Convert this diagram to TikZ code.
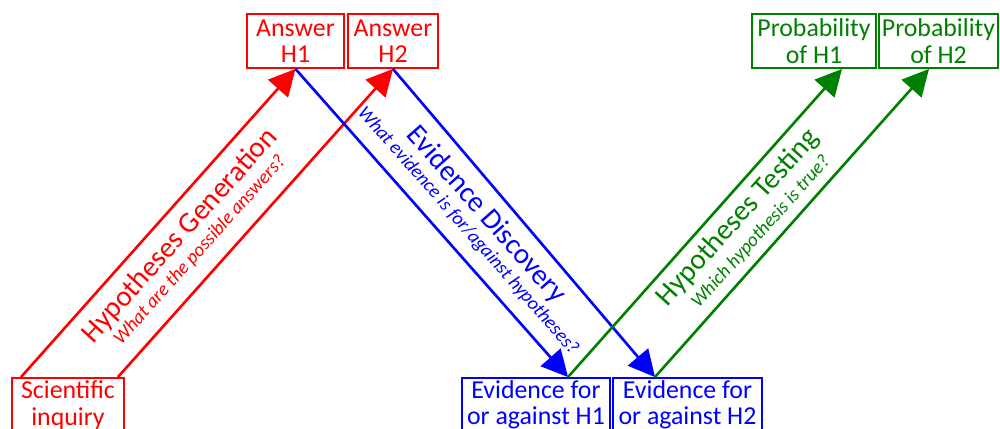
\documentclass[tikz,border=0pt]{standalone}
\usepackage{fontspec}
\setmainfont{Carlito}
\usetikzlibrary{arrows.meta}
\definecolor{hred}{RGB}{255,0,0}
\definecolor{hblue}{RGB}{0,0,255}
\definecolor{hgreen}{RGB}{0,128,0}
\tikzset{>={Triangle[length=15pt,width=15pt]},
box/.style={draw, line width=1.1pt, minimum height=1.08cm, inner sep=0pt, align=center,
    font=\fontsize{14.7}{15}\selectfont},
flow/.style={->, line width=1.5pt},
title/.style={font=\fontsize{16.5}{18}\selectfont, inner sep=0pt},
sub/.style={font=\fontsize{10.9}{12}\selectfont\itshape, inner sep=0pt},
}

\begin{document}
\begin{tikzpicture}[x=0.02cm, y=-0.02cm]
    \useasboundingbox (0,0) rectangle (1000,429);
    % boxes
    \node[box, hred, minimum width=2.24cm] (sci) at (68,405) {Scientific\\inquiry};
    \node[box, hred, minimum width=1.94cm] (a1) at (295.5,41) {Answer\\H1};
    \node[box, hred, minimum width=1.80cm] (a2) at (393,41) {Answer\\H2};
    \node[box, hblue, minimum width=2.96cm] (e1) at (536,405) {Evidence for\\or against H1};
    \node[box, hblue, minimum width=2.98cm] (e2) at (687.5,405) {Evidence for\\or against H2};
    \node[box, hgreen, minimum width=2.48cm] (p1) at (814,41) {Probability\\of H1};
    \node[box, hgreen, minimum width=2.38cm] (p2) at (938.5,41) {Probability\\of H2};
    \coordinate (t1) at ([xshift=0.64cm]e1.north);
    \coordinate (t2) at ([xshift=-0.65cm]e2.north);
    % arrows
    \draw[flow, hred] ([xshift=0.2cm]sci.north west) -- (a1.south);
    \draw[flow, hred] ([xshift=-0.14cm]sci.north east) -- (a2.south);
    \draw[flow, hblue] (a1.south) -- (t1);
    \draw[flow, hblue] (a2.south) -- (t2);
    \draw[flow, hgreen] (t1) -- ([xshift=0.56cm]p1.south);
    \draw[flow, hgreen] (t2) -- ([xshift=-0.19cm]p2.south);
    % labels
    \node[title, hred, rotate=48] (hg) at (180,236) {Hypotheses Generation};
    \node[sub, hred, rotate=48] (hgq) at (200,250) {What are the possible answers?};
    \node[title, hblue, rotate=-48.5] (ed) at (486,215) {Evidence Discovery};
    \node[sub, hblue, rotate=-48.5] (edq) at (468,231) {What evidence is for/against hypotheses?};
    \node[title, hgreen, rotate=48] (ht) at (738,218) {Hypotheses Testing};
    \node[sub, hgreen, rotate=48] (htq) at (761,232) {Which hypothesis is true?};
\end{tikzpicture}
\end{document}
